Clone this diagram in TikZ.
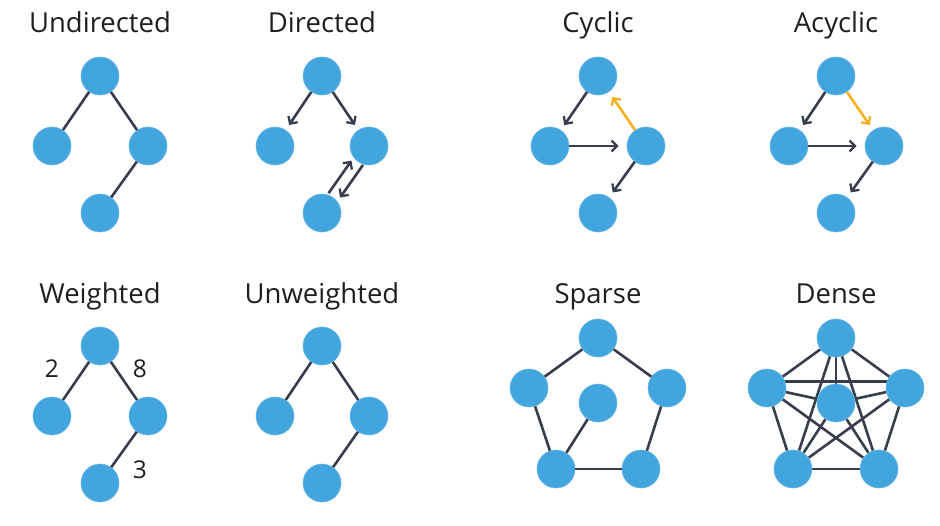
\documentclass[tikz,border=0pt]{standalone}
\usepackage{fontspec}
\setmainfont{Open Sans}
\usetikzlibrary{arrows.meta,backgrounds}
\definecolor{nodeblue}{HTML}{42A5DE}
\definecolor{edgegray}{HTML}{363D4D}
\definecolor{cycorange}{HTML}{F5B11E}
\begin{document}
\begin{tikzpicture}[x=1pt,y=-1pt,
  vert/.style={circle, fill=nodeblue, draw=nodeblue!80!white, line width=0.6pt, minimum size=38pt, inner sep=0pt},
  edge/.style={draw=edgegray, line width=2.6pt},
  arr/.style={edge, -{Straight Barb[length=5.5pt,width=11pt,line width=2.3pt]}, shorten >=6pt},
  oarr/.style={arr, draw=cycorange},
  title/.style={anchor=base, font=\fontsize{27.5}{32}\selectfont, text=black!88},
  wlabel/.style={anchor=base, font=\fontsize{24.5}{28}\selectfont, text=black!88}]
\useasboundingbox (0,0) rectangle (940,525);

% ---------- titles ----------
\node[title] (t1) at (100,32) {Undirected};
\node[title] (t2) at (322,32) {Directed};
\node[title] (t3) at (598,32) {Cyclic};
\node[title] (t4) at (836,32) {Acyclic};
\node[title] (t5) at (100,303) {Weighted};
\node[title] (t6) at (322,303) {Unweighted};
\node[title] (t7) at (598,303) {Sparse};
\node[title] (t8) at (836,303) {Dense};

% ---------- Undirected ----------
\node[vert] (ua) at (100,76) {};
\node[vert] (ub) at (52,146) {};
\node[vert] (uc) at (148,146) {};
\node[vert] (ud) at (100,213) {};
\draw[edge] (ua) -- (ub);
\draw[edge] (ua) -- (uc);
\draw[edge] (uc) -- (ud);

% ---------- Directed ----------
\node[vert] (da) at (322,76) {};
\node[vert] (db) at (275,146) {};
\node[vert] (dc) at (369,146) {};
\node[vert] (dd) at (322,213) {};
\draw[arr] (da) -- (db);
\draw[arr] (da) -- (dc);
\draw[arr, shorten <=20pt, shorten >=22pt] ([xshift=-4.9pt,yshift=3.4pt]dd.center) -- ([xshift=-4.9pt,yshift=3.4pt]dc.center);
\draw[arr, shorten <=19pt, shorten >=23pt] ([xshift=4.9pt,yshift=-3.4pt]dc.center) -- ([xshift=4.9pt,yshift=-3.4pt]dd.center);

% ---------- Cyclic ----------
\node[vert] (ca) at (598,76) {};
\node[vert] (cb) at (550,146) {};
\node[vert] (cc) at (646,146) {};
\node[vert] (cd) at (598,213) {};
\draw[arr] (ca) -- (cb);
\draw[arr, shorten >=8pt] (cb) -- (cc);
\draw[arr] (cc) -- (cd);
\draw[oarr] (cc) -- (ca);

% ---------- Acyclic ----------
\node[vert] (aa) at (836,76) {};
\node[vert] (ab) at (789,146) {};
\node[vert] (ac) at (884,146) {};
\node[vert] (ad) at (836,213) {};
\draw[arr] (aa) -- (ab);
\draw[oarr] (aa) -- (ac);
\draw[arr, shorten >=8pt] (ab) -- (ac);
\draw[arr] (ac) -- (ad);

% ---------- Weighted ----------
\node[vert] (wa) at (100,346) {};
\node[vert] (wb) at (52,416) {};
\node[vert] (wc) at (148,416) {};
\node[vert] (wd) at (100,483) {};
\draw[edge] (wa) -- (wb);
\draw[edge] (wa) -- (wc);
\draw[edge] (wc) -- (wd);
\node[wlabel] (w2) at (52,377) {2};
\node[wlabel] (w8) at (140,377) {8};
\node[wlabel] (w3) at (140,478) {3};

% ---------- Unweighted ----------
\node[vert] (na) at (322,346) {};
\node[vert] (nb) at (275,416) {};
\node[vert] (nc) at (369,416) {};
\node[vert] (nd) at (322,483) {};
\draw[edge] (na) -- (nb);
\draw[edge] (na) -- (nc);
\draw[edge] (nc) -- (nd);

% ---------- Sparse ----------
\node[vert] (sa) at (598,338) {};
\node[vert] (sb) at (529,388) {};
\node[vert] (sc) at (667,388) {};
\node[vert] (sm) at (598,403) {};
\node[vert] (sd) at (556,469) {};
\node[vert] (se) at (641,469) {};
\draw[edge] (sa) -- (sb);
\draw[edge] (sa) -- (sc);
\draw[edge] (sb) -- (sd);
\draw[edge] (sc) -- (se);
\draw[edge] (sd) -- (se);
\draw[edge] (sm) -- (sd);

% ---------- Dense ----------
\node[vert] (ka) at (836,338) {};
\node[vert] (kb) at (767,388) {};
\node[vert] (kc) at (905,388) {};
\node[vert] (km) at (836,403) {};
\node[vert] (kd) at (793,469) {};
\node[vert] (ke) at (879,469) {};
\begin{pgfonlayer}{background}
\draw[edge] (ka) -- (kb);
\draw[edge] (ka) -- (kc);
\draw[edge] (ka) -- (km);
\draw[edge] (ka) -- (kd);
\draw[edge] (ka) -- (ke);
\draw[edge, line width=3.8pt] (kb.20) -- (kc.160);
\draw[edge] (kb) -- (km);
\draw[edge] (kb) -- (kd);
\draw[edge] (kb) -- (ke);
\draw[edge] (kc) -- (km);
\draw[edge] (kc) -- (kd);
\draw[edge] (kc) -- (ke);
\draw[edge] (km) -- (kd);
\draw[edge] (km) -- (ke);
\draw[edge] (kd) -- (ke);
\end{pgfonlayer}
\end{tikzpicture}
\end{document}
